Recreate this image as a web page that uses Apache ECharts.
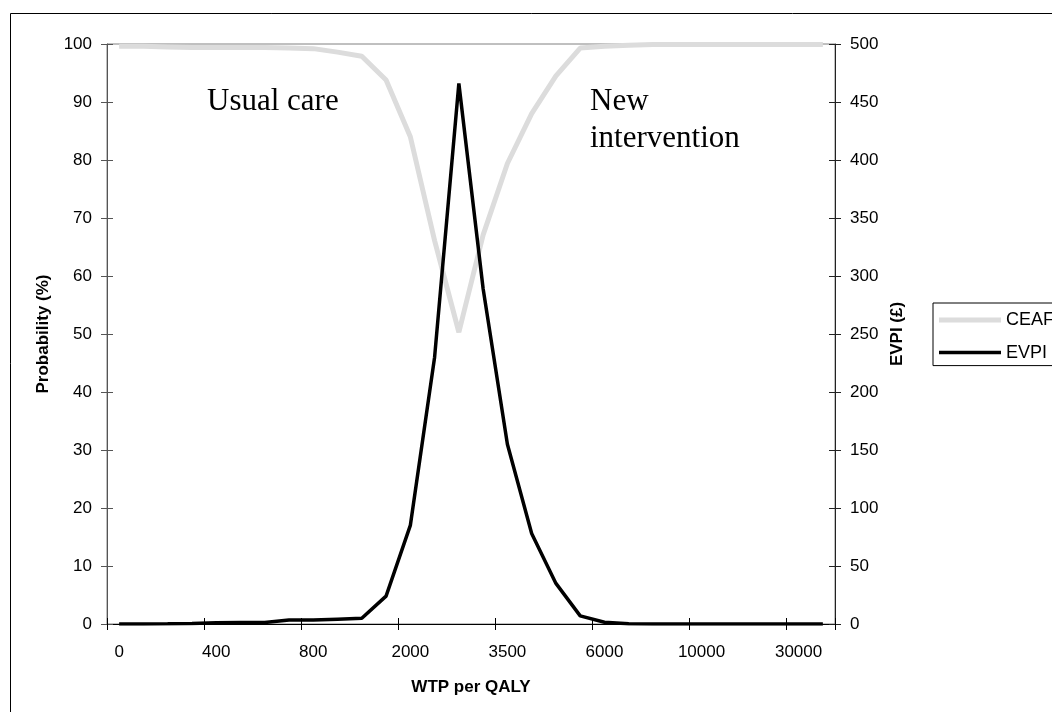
<!DOCTYPE html>
<html>
<head>
<meta charset="utf-8">
<title>CEAF and EVPI</title>
<script src="https://cdn.jsdelivr.net/npm/echarts@6/dist/echarts.min.js"></script>
<style>
  html, body { margin: 0; padding: 0; background: #fff; }
  #chart { width: 1052px; height: 712px; }
</style>
</head>
<body>
<div id="chart"></div>
<script>
// willingness to pay per QALY (only every 4th one is labelled)
var wtp = ['0', '100', '200', '300', '400', '500', '600', '700', '800', '1000',
  '1200', '1500', '2000', '2250', '2500', '3000', '3500', '4000', '4500', '5000',
  '6000', '7000', '8000', '9000', '10000', '15000', '20000', '25000', '30000', '50000'];

// probability cost-effective (%), left axis
var ceaf = [99.6, 99.6, 99.5, 99.4, 99.4, 99.4, 99.4, 99.3, 99.2, 98.6,
  97.9, 93.8, 84.0, 66.1, 50.3, 67.1, 79.4, 88.0, 94.5, 99.3,
  99.6, 99.8, 99.9, 99.9, 99.9, 99.9, 99.9, 99.9, 99.9, 99.9];

// expected value of perfect information (£), right axis
var evpi = [0, 0, 0.2, 0.5, 1, 1.2, 1.2, 3.4, 3.4, 4.2,
  4.9, 24, 85, 230, 466, 289, 155, 78, 35, 7,
  1.5, 0.3, 0, 0, 0, 0, 0, 0, 0, 0];

var probMin = 0, probMax = 100, probStep = 10;
var evpiMin = 0, evpiMax = 500, evpiStep = 50;

var font = 'Liberation Sans, Arial, sans-serif';
var serif = 'Liberation Serif, Times New Roman, serif';

var myChart = echarts.init(document.getElementById('chart'), null, { renderer: 'canvas' });

var option = {
  animation: false,
  backgroundColor: '#fff',
  textStyle: { fontFamily: font },
  grid: {
    left: 107, right: 217, top: 44, bottom: 88,
    show: true, borderColor: '#808080', borderWidth: 1, backgroundColor: 'transparent'
  },
  legend: {
    orient: 'vertical',
    left: 933, top: 303,
    padding: [7, 40, 3, 6],
    itemWidth: 62, itemHeight: 20, itemGap: 12.6,
    borderColor: '#000', borderWidth: 1, borderRadius: 0,
    textStyle: { fontSize: 18, color: '#000', fontFamily: font, lineHeight: 20 },
    data: [
      { name: 'CEAF', icon: 'path://M0,0 H62 V5 H0 Z', itemStyle: { color: '#dcdcdc', borderWidth: 0 } },
      { name: 'EVPI', icon: 'path://M0,0 H62 V3.5 H0 Z', itemStyle: { color: '#000', borderWidth: 0 } }
    ]
  },
  xAxis: [{
    type: 'category',
    data: wtp,
    position: 'bottom',
    boundaryGap: true,
    name: 'WTP per QALY',
    nameLocation: 'middle',
    nameGap: 55,
    nameTextStyle: { fontSize: 17, fontWeight: 'bold', color: '#000', fontFamily: font },
    axisLine: { lineStyle: { color: '#000', width: 1 } },
    axisTick: { show: true, interval: 3, length: 6, lineStyle: { color: '#000' } },
    axisLabel: { interval: 3, margin: 20, fontSize: 17, color: '#000', fontFamily: font },
    splitLine: { show: false }
  }, {
    type: 'category',
    data: wtp,
    position: 'bottom',
    boundaryGap: true,
    axisLine: { show: false },
    axisTick: { show: true, inside: true, interval: 3, length: 6, lineStyle: { color: '#000' } },
    axisLabel: { show: false },
    splitLine: { show: false }
  }],
  yAxis: [{
    type: 'value',
    position: 'left',
    min: probMin, max: probMax, interval: probStep,
    name: 'Probability (%)',
    nameLocation: 'middle',
    nameGap: 55,
    nameTextStyle: { fontSize: 17, fontWeight: 'bold', color: '#000', fontFamily: font },
    axisLine: { show: true, lineStyle: { color: '#555', width: 1 } },
    axisTick: { show: true, length: 6, lineStyle: { color: '#555' } },
    axisLabel: { margin: 15, fontSize: 17, color: '#000', fontFamily: font },
    splitLine: { show: false }
  }, {
    type: 'value',
    position: 'right',
    min: evpiMin, max: evpiMax, interval: evpiStep,
    name: 'EVPI (£)',
    nameLocation: 'middle',
    nameGap: 54,
    nameTextStyle: { fontSize: 17, fontWeight: 'bold', color: '#000', fontFamily: font },
    axisLine: { show: true, lineStyle: { color: '#222', width: 1 } },
    axisTick: { show: true, length: 6, lineStyle: { color: '#222' } },
    axisLabel: { margin: 15, fontSize: 17, color: '#000', fontFamily: font },
    splitLine: { show: false }
  }, {
    type: 'value',
    position: 'left',
    min: probMin, max: probMax, interval: probStep,
    axisLine: { show: false },
    axisTick: { show: true, inside: true, length: 6, lineStyle: { color: '#555' } },
    axisLabel: { show: false },
    splitLine: { show: false }
  }, {
    type: 'value',
    position: 'right',
    min: evpiMin, max: evpiMax, interval: evpiStep,
    axisLine: { show: false },
    axisTick: { show: true, inside: true, length: 6, lineStyle: { color: '#222' } },
    axisLabel: { show: false },
    splitLine: { show: false }
  }],
  series: [{
    name: 'CEAF',
    type: 'line',
    xAxisIndex: 0,
    yAxisIndex: 0,
    data: ceaf,
    symbol: 'none',
    lineStyle: { color: '#dcdcdc', width: 5 },
    itemStyle: { color: '#dcdcdc' },
    z: 2
  }, {
    name: 'EVPI',
    type: 'line',
    xAxisIndex: 0,
    yAxisIndex: 1,
    data: evpi,
    symbol: 'none',
    lineStyle: { color: '#000', width: 3.5 },
    itemStyle: { color: '#000' },
    z: 3
  }],
  graphic: [{
    type: 'rect',
    shape: { x: 10.5, y: 13.5, width: 1100, height: 720 },
    style: { fill: 'none', stroke: '#000', lineWidth: 1 },
    silent: true, z: -10
  }, {
    type: 'text',
    left: 207, top: 86,
    style: { text: 'Usual care', font: '31px ' + serif, fill: '#000' }
  }, {
    type: 'text',
    left: 590, top: 83,
    style: { text: 'New\nintervention', font: '31px ' + serif, fill: '#000', lineHeight: 37 }
  }]
};

myChart.setOption(option);
</script>
</body>
</html>
